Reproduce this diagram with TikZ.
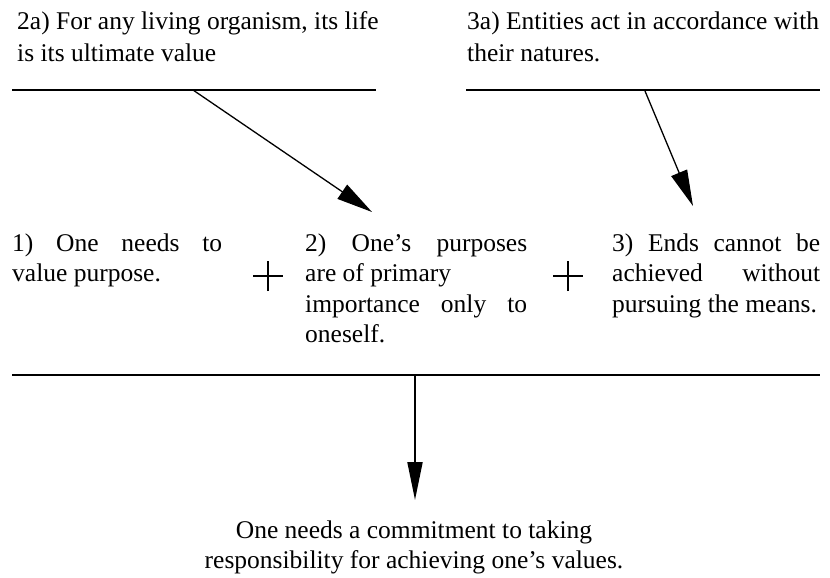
\documentclass[tikz,border=0pt]{standalone}
\usepackage{fontspec}
\setmainfont{Liberation Serif}
\usetikzlibrary{arrows.meta}

% a line stretched to a given width by widening its spaces
\newcommand{\fullline}[2]{\makebox[#1][s]{#2}}

\begin{document}
\begin{tikzpicture}[x=1pt,y=-1pt,
  txt/.style={inner sep=0pt,anchor=base west,font=\fontsize{25.5}{30.5}\selectfont},
  toptxt/.style={txt,font=\fontsize{25.5}{32}\selectfont},
  bar/.style={line width=2.6pt},
  arr/.style={line width=1.3pt,-{Triangle[length=36pt,width=17pt]}},
  plus/.style={line width=1.9pt}]
\path[use as bounding box] (0,0) rectangle (830,578);

% premises feeding the main propositions
\node[toptxt] (p2a) at (17,30) {\vtop{\hbox{2a) For any living organism, its life}\hbox{is its ultimate value}}};
\node[toptxt] (p3a) at (467,30) {\vtop{\hbox{3a) Entities act in accordance with}\hbox{their natures.}}};

\draw[bar] (12,90) -- (376,90);
\draw[bar] (466,90) -- (820,90);

% the three propositions
\node[txt] (p1) at (12,251) {\vtop{\hbox{\fullline{210pt}{1) One needs to}}\hbox{value purpose.}}};
\node[txt] (p2) at (305,251) {\vtop{\hbox{\fullline{222pt}{2) One’s purposes}}\hbox{are of primary}\hbox{\fullline{222pt}{importance only to}}\hbox{oneself.}}};
\node[txt] (p3) at (612,251) {\vtop{\hbox{\fullline{208pt}{3) Ends cannot be}}\hbox{\fullline{208pt}{achieved without}}\hbox{pursuing the means.}}};

% plus signs between the propositions
\coordinate (plusA) at (268,276);
\coordinate (plusB) at (568,276);
\foreach \c in {plusA,plusB}{
  \draw[plus] ([xshift=-15pt]\c) -- ([xshift=15pt]\c);
  \draw[plus] ([yshift=-15pt]\c) -- ([yshift=15pt]\c);
}

\draw[bar] (12,375) -- (820,375);

% conclusion
\node[txt,anchor=base] (c) at (414,538) {\vtop{\hbox to 0pt{\hss One needs a commitment to taking\hss}\hbox to 0pt{\hss responsibility for achieving one’s values.\hss}}};

% connectors
\coordinate (s1) at (193,90);
\coordinate (e1) at (372,212);
\coordinate (s2) at (645,91);
\coordinate (e2) at (693,206);
\coordinate (s3) at (415,375);
\coordinate (e3) at (415,500);
\draw[arr] (s1) -- (e1);
\draw[arr] (s2) -- (e2);
\draw[arr,line width=2pt,-{Triangle[length=38pt,width=15pt]}] (s3) -- (e3);
\end{tikzpicture}
\end{document}
